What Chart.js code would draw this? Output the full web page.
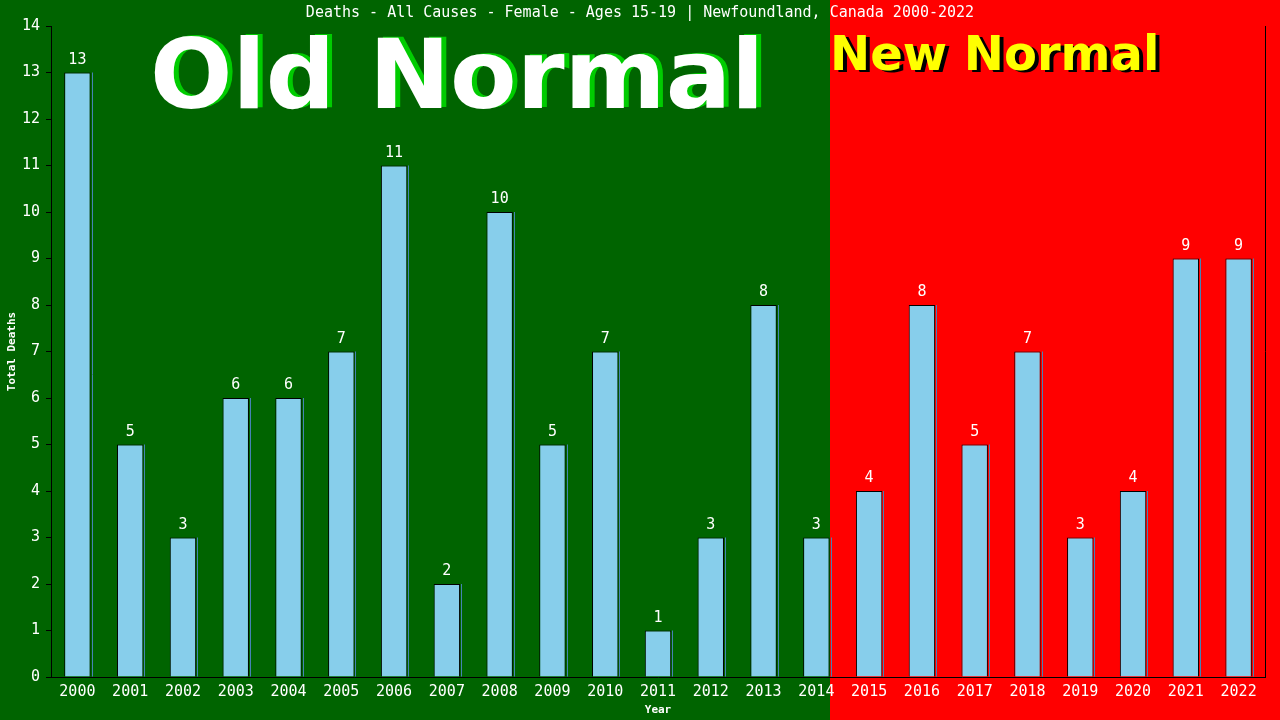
<!DOCTYPE html>
<html>
<head>
<meta charset="utf-8">
<script src="https://cdn.jsdelivr.net/npm/chart.js@4"></script>
<style>
  html, body { margin: 0; padding: 0; background: #006400; }
  #wrap { width: 1280px; height: 720px; }
</style>
</head>
<body>
<div id="wrap"><canvas id="deaths-chart" width="1280" height="720"></canvas></div>
<script>
const years = ['2000','2001','2002','2003','2004','2005','2006','2007','2008','2009','2010','2011',
  '2012','2013','2014','2015','2016','2017','2018','2019','2020','2021','2022']
const deaths = [13, 5, 3, 6, 6, 7, 11, 2, 10, 5, 7, 1, 3, 8, 3, 4, 8, 5, 7, 3, 4, 9, 9]
const yTicks = [0,1,2,3,4,5,6,7,8,9,10,11,12,13,14]
const lastOldYear = '2014'
const chartTitle = 'Deaths - All Causes - Female - Ages 15-19 | Newfoundland, Canada 2000-2022'

const MONO = '"DejaVu Sans Mono", "Liberation Mono", monospace'

// backgrounds, headline texts, bar value labels
const decorPlugin = {
  id: 'decor',
  beforeDraw(chart) {
    const ctx = chart.ctx
    const meta = chart.getDatasetMeta(0)
    const idx = years.indexOf(lastOldYear)
    const bar = meta.data[idx]
    const split = Math.round(bar.x + bar.width / 2)
    ctx.save()
    ctx.fillStyle = '#006400'
    ctx.fillRect(0, 0, split, chart.height)
    ctx.fillStyle = '#ff0000'
    ctx.fillRect(split, 0, chart.width - split, chart.height)

    ctx.textBaseline = 'alphabetic'
    ctx.textAlign = 'left'
    ctx.font = 'bold 97px "DejaVu Sans", Verdana, sans-serif'
    ctx.fillStyle = '#00cc00'
    ctx.fillText('Old Normal', 155, 107)
    ctx.fillStyle = '#ffffff'
    ctx.fillText('Old Normal', 150, 108)

    ctx.font = 'bold 48px "DejaVu Sans", Verdana, sans-serif'
    ctx.fillStyle = '#000000'
    ctx.fillText('New Normal', split + 4, 72)
    ctx.fillStyle = '#ffff00'
    ctx.fillText('New Normal', split, 70)

    ctx.font = '15px ' + MONO
    ctx.fillStyle = '#ffffff'
    ctx.textAlign = 'center'
    ctx.textBaseline = 'middle'
    ctx.fillText(chartTitle, 640, 13)
    ctx.restore()
  },
  afterDatasetsDraw(chart) {
    const ctx = chart.ctx
    const meta = chart.getDatasetMeta(0)
    const area = chart.chartArea
    ctx.save()
    // thin blue edge on right side of each bar
    ctx.strokeStyle = '#4682b4'
    ctx.lineWidth = 1
    meta.data.forEach(bar => {
      const xr = Math.round(bar.x + bar.width / 2) + 1.5
      ctx.beginPath()
      ctx.moveTo(xr, bar.y)
      ctx.lineTo(xr, bar.base)
      ctx.stroke()
    })
    ctx.font = '15px ' + MONO
    ctx.fillStyle = '#ffffff'
    ctx.textAlign = 'center'
    ctx.textBaseline = 'bottom'
    meta.data.forEach((bar, i) => {
      ctx.fillText(String(deaths[i]), bar.x, bar.y - 5)
    })
    // right frame line
    ctx.strokeStyle = '#000000'
    ctx.beginPath()
    ctx.moveTo(area.right + 0.5, area.top)
    ctx.lineTo(area.right + 0.5, area.bottom)
    ctx.stroke()
    ctx.restore()
  }
}

const config = {
  type: 'bar',
  data: {
    labels: years,
    datasets: [{
      label: 'Total Deaths',
      data: deaths,
      backgroundColor: '#87ceeb',
      borderColor: '#000000',
      borderWidth: 1,
      borderSkipped: 'bottom',
      categoryPercentage: 1,
      barPercentage: 0.5
    }]
  },
  options: {
    responsive: false,
    animation: false,
    layout: { padding: { top: 26, right: 15, left: 0, bottom: 0 } },
    plugins: {
      legend: { display: false },
      title: { display: false },
      tooltip: { enabled: false }
    },
    scales: {
      x: {
        grid: { display: false },
        border: { display: true, color: '#000000', width: 1 },
        ticks: {
          color: '#ffffff',
          font: { family: MONO, size: 15 },
          maxRotation: 0,
          autoSkip: false,
          padding: -2
        },
        title: {
          display: true,
          text: 'Year',
          color: '#ffffff',
          font: { family: MONO, size: 11, weight: 'bold' },
          padding: { top: 0, bottom: 3 }
        },
        afterFit(scale) { scale.height = 43 }
      },
      y: {
        min: 0,
        max: 14,
        afterBuildTicks(scale) { scale.ticks = yTicks.map(v => ({ value: v })) },
        grid: {
          display: true,
          drawOnChartArea: false,
          drawTicks: true,
          tickLength: 5,
          color: '#000000'
        },
        border: { display: true, color: '#000000', width: 1 },
        ticks: {
          color: '#ffffff',
          font: { family: MONO, size: 15 },
          padding: 6
        },
        title: {
          display: true,
          text: 'Total Deaths',
          color: '#ffffff',
          font: { family: MONO, size: 11, weight: 'bold' },
          padding: { top: 6, bottom: 0 }
        },
        afterFit(scale) { scale.width = 51 }
      }
    }
  },
  plugins: [decorPlugin]
}

new Chart(document.getElementById('deaths-chart'), config)
</script>
</body>
</html>
